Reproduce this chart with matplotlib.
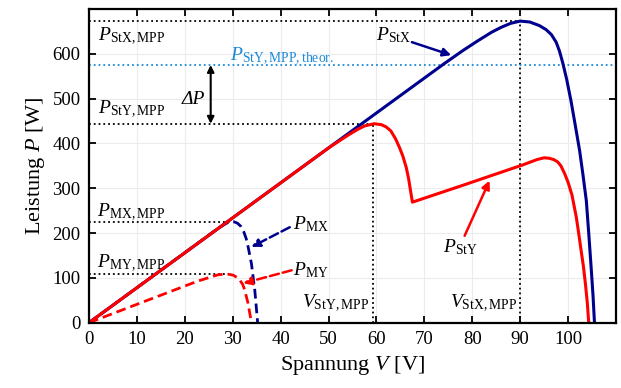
import numpy as np
import matplotlib
matplotlib.use("Agg")
import matplotlib.pyplot as plt

plt.rcParams['font.family'] = ['Liberation Serif', 'DejaVu Serif']
plt.rcParams['mathtext.fontset'] = 'custom'
plt.rcParams['mathtext.rm'] = 'Liberation Serif'
plt.rcParams['mathtext.it'] = 'Liberation Serif:italic'

# string X (blue, solid)
V_stx = [0, 20, 40, 60, 74, 78, 81, 84, 86, 88, 90, 92, 94, 95.4, 96.5, 97.5, 98.2, 98.9, 99.7, 100.6,
         101.5, 102.4, 103.1, 103.8, 104.3, 104.8, 105.2, 105.5]
P_stx = [0, 156, 312, 468, 577, 607, 628, 648, 659, 668, 673, 671, 663, 654, 643, 626, 606, 579, 543, 495,
         440, 384, 330, 272, 200, 124, 60, 0]

# string Y (red, solid)
V_sty = [0, 20, 40, 50, 54, 56, 57.5, 59.5, 61, 62, 63, 64, 64.8, 65.5, 66.2, 66.7, 67.1, 67.5,
         77.3, 90.5, 92, 93.5, 95, 96, 97, 97.8, 98.5, 99.3, 100, 100.8, 101.7, 102.2, 102.7, 103.2, 103.6, 104, 104.3]
P_sty = [0, 156, 312, 390, 418, 431, 439, 444, 442, 437, 428, 410, 391, 372, 347, 322, 295, 269,
         304, 352, 358, 364, 368, 367, 364, 359, 350, 332, 313, 285, 236, 200, 162, 125, 88, 45, 0]

# module X (blue, dashed)
V_mx = [0, 27, 28.7, 29.5, 30.3, 31, 31.7, 32.3, 32.8, 33.2, 33.9, 34.6, 35.2]
P_mx = [0, 211, 222, 225, 225, 222, 215, 203, 188, 170, 132, 73, 0]

# module Y (red, dashed)
V_my = [0, 10, 22.5, 26, 27, 28, 29.2, 30.1, 30.9, 31.5, 32.1, 32.5, 33.2, 33.9]
P_my = [0, 41, 92, 104, 107, 108, 108, 106, 101, 95, 85, 73, 43, 0]

P_stx_mpp, V_stx_mpp = 673, 90
P_sty_mpp, V_sty_mpp = 444, 59.3
P_sty_theor = 575
P_mx_mpp, V_mx_mpp = 225, 29.5
P_my_mpp, V_my_mpp = 108, 28.5

blue = '#00008f'
red = '#ff0000'
lblue = '#1a8ad8'

fig = plt.figure(figsize=(6.21, 3.88), dpi=100)
ax = fig.add_axes([0.1433, 0.1683, 0.8487, 0.8085])

ax.grid(True, color='#ececec', lw=0.8)
ax.set_axisbelow(True)

# dotted helper lines
ax.plot([0, V_stx_mpp], [P_stx_mpp, P_stx_mpp], ls=':', color='k', lw=1.3)
ax.plot([V_stx_mpp, V_stx_mpp], [0, P_stx_mpp], ls=':', color='k', lw=1.3)
ax.plot([0, V_sty_mpp], [P_sty_mpp, P_sty_mpp], ls=':', color='k', lw=1.3)
ax.plot([V_sty_mpp, V_sty_mpp], [0, P_sty_mpp], ls=':', color='k', lw=1.3)
ax.plot([0, V_mx_mpp], [P_mx_mpp, P_mx_mpp], ls=':', color='k', lw=1.3)
ax.plot([0, V_my_mpp], [P_my_mpp, P_my_mpp], ls=':', color='k', lw=1.3)
ax.plot([0, 110], [P_sty_theor, P_sty_theor], ls=':', color=lblue, lw=1.3)

ax.plot(V_stx, P_stx, color=blue, lw=2.2, solid_joinstyle='round')
ax.plot(V_mx, P_mx, color=blue, lw=2.0, ls=(0, (3.5, 1.8)))
ax.plot(V_my, P_my, color=red, lw=2.0, ls=(0, (3.5, 1.8)))
ax.plot(V_sty, P_sty, color=red, lw=2.2, solid_joinstyle='round')

ax.set_xlim(0, 110)
ax.set_ylim(0, 700)
ax.set_xticks(np.arange(0, 111, 10))
ax.set_xticklabels([str(v) for v in range(0, 101, 10)] + [''])
ax.set_yticks(np.arange(0, 701, 100))
ax.set_yticklabels([str(v) for v in range(0, 601, 100)] + [''])
ax.tick_params(direction='in', length=5, width=1.3, top=True, right=True, labelsize=13.5, pad=6)
for s in ax.spines.values():
    s.set_linewidth(1.6)

ax.set_xlabel('Spannung $\\mathit{V}$ [V]', fontsize=16, labelpad=4)
ax.set_ylabel('Leistung $\\mathit{P}$ [W]', fontsize=16, labelpad=4)

fs = 14
ax.text(1.9, 639, '$P_{\\mathrm{StX,MPP}}$', fontsize=fs, va='center')
ax.text(1.9, 477, '$P_{\\mathrm{StY,MPP}}$', fontsize=fs, va='center')
ax.text(1.6, 247, '$P_{\\mathrm{MX,MPP}}$', fontsize=fs, va='center')
ax.text(1.6, 132, '$P_{\\mathrm{MY,MPP}}$', fontsize=fs, va='center')
ax.text(29.4, 595, '$P_{\\mathrm{StY,MPP,theor.}}$', fontsize=fs, va='center', color=lblue)
ax.text(19.3, 497, '\u0394P', fontsize=fs, va='center', style='italic')
ax.annotate('', xy=(25.4, P_sty_theor), xytext=(25.4, P_sty_mpp),
            arrowprops=dict(arrowstyle='<|-|>', color='k', lw=1.5, mutation_scale=10, shrinkA=0, shrinkB=0))

ax.text(60, 642, '$P_{\\mathrm{StX}}$', fontsize=fs, va='center')
ax.annotate('', xy=(75.6, 597), xytext=(67.4, 626),
            arrowprops=dict(arrowstyle='-|>', color=blue, lw=1.8, mutation_scale=12, shrinkA=0, shrinkB=0))
ax.text(73.8, 168, '$P_{\\mathrm{StY}}$', fontsize=fs, va='center')
ax.annotate('', xy=(83.6, 317), xytext=(78.4, 194),
            arrowprops=dict(arrowstyle='-|>', color=red, lw=1.8, mutation_scale=12, shrinkA=0, shrinkB=0))
ax.text(42.6, 221, '$P_{\\mathrm{MX}}$', fontsize=fs, va='center')
ax.annotate('', xy=(33.9, 169), xytext=(41.9, 213),
            arrowprops=dict(arrowstyle='-|>', color=blue, lw=1.8, ls='--', mutation_scale=12, shrinkA=0, shrinkB=0))
ax.text(42.6, 117, '$P_{\\mathrm{MY}}$', fontsize=fs, va='center')
ax.annotate('', xy=(32.2, 88), xytext=(42.3, 117),
            arrowprops=dict(arrowstyle='-|>', color=red, lw=1.8, ls='--', mutation_scale=12, shrinkA=0, shrinkB=0))

ax.text(58.6, 44, '$V_{\\mathrm{StY,MPP}}$', fontsize=fs, va='center', ha='right')
ax.text(89.4, 44, '$V_{\\mathrm{StX,MPP}}$', fontsize=fs, va='center', ha='right')

fig.savefig('out.png', dpi=100)
